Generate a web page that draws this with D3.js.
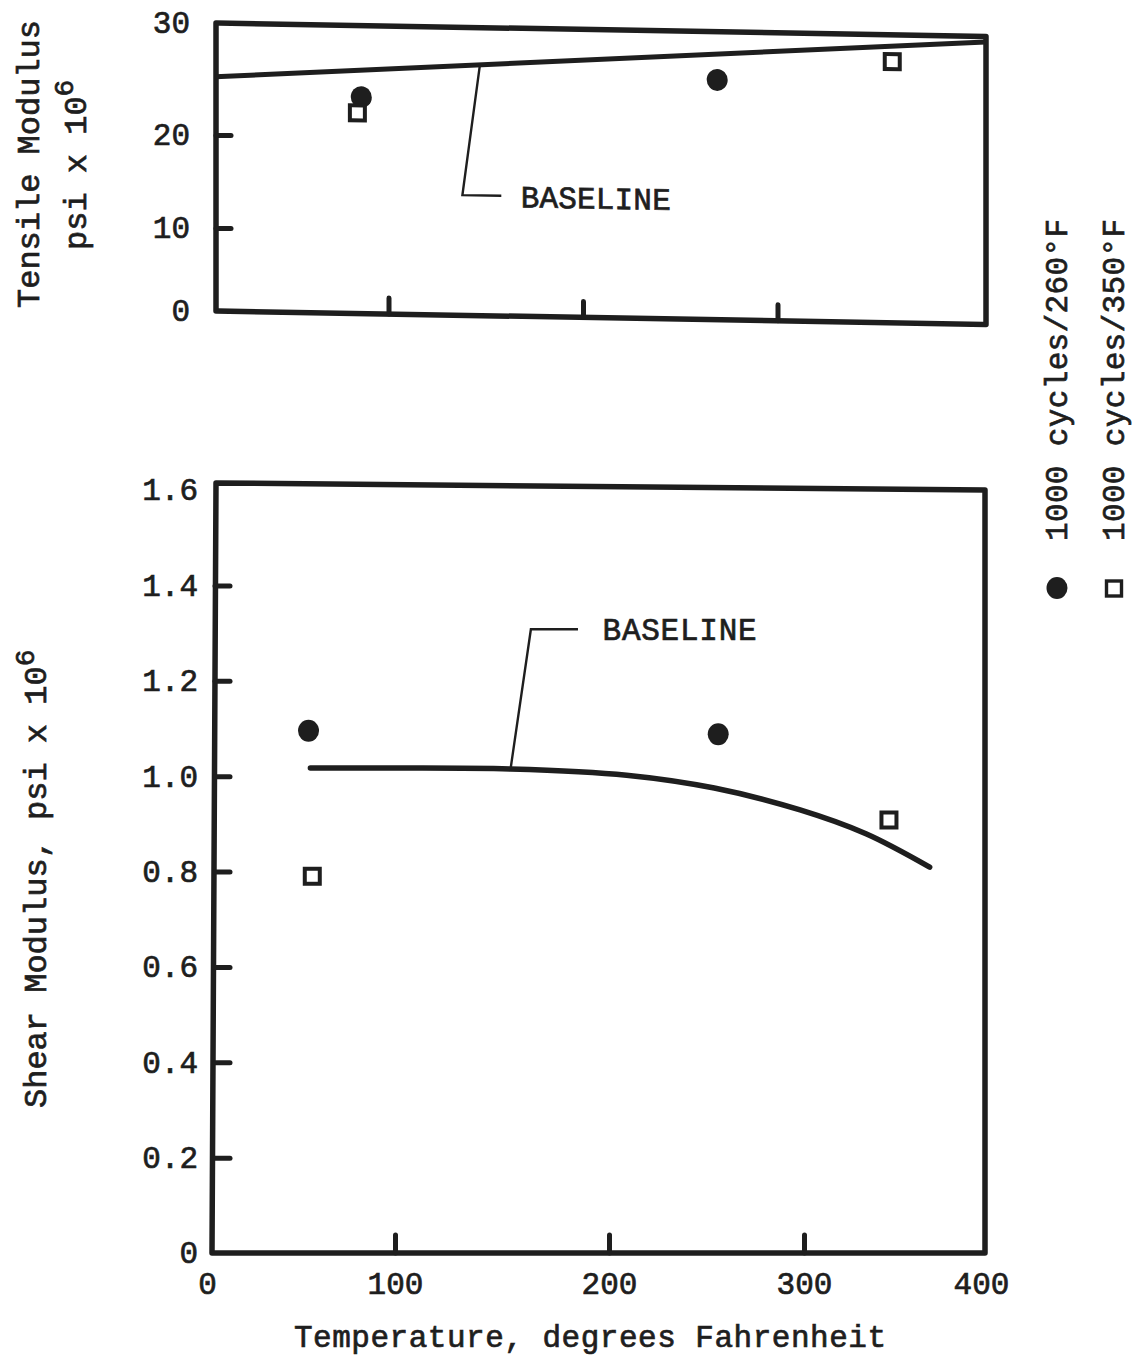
<!DOCTYPE html>
<html>
<head>
<meta charset="utf-8">
<script src="https://cdn.jsdelivr.net/npm/d3@7"></script>
<style>
  html, body { margin: 0; padding: 0; background: #fff; }
  svg { display: block; background: #fff; }
  text { font-family: "Liberation Mono", "Courier New", monospace; fill: #1e1e1e;
         stroke: #1e1e1e; stroke-width: 0.7px; }
</style>
</head>
<body>
<svg id="chart" width="1139" height="1357"></svg>
<script>
// ---- Tensile modulus panel (psi x 10^6) ----
const tensileTicks = [0, 10, 20, 30];
const tensileTempTicks = [100, 200, 300];
const tensileBaselineTemp = [11, 407];
const tensileBaseline = [25.2, 29.5];
const tensile250Temp = [86, 269];
const tensile250 = [23.6, 25.7];
const tensile350Temp = [84, 359];
const tensile350 = [22.2, 27.6];

// ---- Shear modulus panel (psi x 10^6) ----
const shearTicks = [0, 0.2, 0.4, 0.6, 0.8, 1.0, 1.2, 1.4, 1.6];
const tempTicks = [0, 100, 200, 300, 400];
const shearBaselineTemp = [55, 100, 154, 209, 254, 298, 335, 371];
const shearBaseline = [1.017, 1.017, 1.015, 1.002, 0.975, 0.929, 0.879, 0.809];
const shear250Temp = [54, 256];
const shear250 = [1.095, 1.088];
const shear350Temp = [56, 348];
const shear350 = [0.790, 0.908];

const legendLabels = ["1000 cycles/260°F", "1000 cycles/350°F"];

const INK = "#1e1e1e";
const svg = d3.select("#chart");

// ---------- scales ----------
const xT = d3.scaleLinear().domain([0, 400]).range([194, 972]);
const yT = d3.scaleLinear().domain([0, 10, 20, 30]).range([311, 228, 135, 23]);
const xB = d3.scaleLinear().domain([0, 100, 200, 300, 400]).range([207, 395, 609, 804, 981]);
const yB = d3.scaleLinear().domain([0, 1.6]).range([1253, 490]);

// frame extents
const topLeft = 216, topRight = 986;
const botLeftTop = 216, botLeftBottom = 212, botRight = 985, botTilt = 7;

function pts(xs, ys) { return xs.map((x, i) => [x, ys[i]]); }

function circles(g, data, xs, ys) {
  g.selectAll(null).data(data).join("ellipse")
    .attr("cx", d => xs(d[0])).attr("cy", d => ys(d[1]))
    .attr("rx", 10.5).attr("ry", 11).attr("fill", INK);
}
function squares(g, data, xs, ys) {
  const s = 15;
  g.selectAll(null).data(data).join("rect")
    .attr("x", d => xs(d[0]) - s / 2).attr("y", d => ys(d[1]) - s / 2)
    .attr("width", s).attr("height", s)
    .attr("fill", "#fff").attr("stroke", INK).attr("stroke-width", 4);
}
function styleAxis(g) {
  g.attr("font-family", null).attr("font-size", 31).style("color", INK);
  g.select(".domain").remove();
  g.selectAll(".tick line").attr("stroke-width", 5).attr("stroke-linecap", "round");
}

// ================= Tensile panel =================
// the printed panel is slightly tilted; vertical edges stay vertical
const topPanel = svg.append("g")
  .attr("transform", `translate(${topLeft},0) skewY(1.0) translate(${-topLeft},0)`);

topPanel.append("rect")
  .attr("x", topLeft).attr("y", yT(30))
  .attr("width", topRight - topLeft).attr("height", yT(0) - yT(30))
  .attr("fill", "none").attr("stroke", INK).attr("stroke-width", 5.5)
  .attr("stroke-linejoin", "round");

topPanel.append("g")
  .attr("transform", `translate(0,${yT(0)})`)
  .call(d3.axisBottom(xT).tickValues(tensileTempTicks).tickSize(-16).tickFormat(""))
  .call(styleAxis);

svg.append("g")
  .attr("transform", `translate(${topLeft},0)`)
  .call(d3.axisLeft(yT).tickValues(tensileTicks).tickSize(-15).tickPadding(26))
  .call(styleAxis)
  .call(g => g.selectAll(".tick").filter(d => d === 0 || d === 30).select("line").remove());

// baseline line
const tensileLine = pts(tensileBaselineTemp, tensileBaseline);
topPanel.append("path")
  .attr("d", d3.line().x(d => xT(d[0])).y(d => yT(d[1]))(tensileLine))
  .attr("fill", "none").attr("stroke", INK).attr("stroke-width", 5);

// leader to the BASELINE label
const tensileAt = d3.scaleLinear().domain(tensileBaselineTemp).range(tensileBaseline);
const tLeader = [[147, tensileAt(147)], [138, 14.0], [158, 14.0]];
topPanel.append("path")
  .attr("d", d3.line().x(d => xT(d[0])).y(d => yT(d[1]))(tLeader))
  .attr("fill", "none").attr("stroke", INK).attr("stroke-width", 2.4);
topPanel.append("text")
  .attr("x", xT(168)).attr("y", yT(14.0)).attr("dy", "0.36em")
  .attr("font-size", 31).attr("textLength", 150)
  .text("BASELINE");

circles(topPanel, pts(tensile250Temp, tensile250), xT, yT);
squares(topPanel, pts(tensile350Temp, tensile350), xT, yT);

// tensile axis title
svg.append("text")
  .attr("transform", "translate(39,164) rotate(-90)")
  .attr("text-anchor", "middle").attr("font-size", 32)
  .text("Tensile Modulus");
const t2 = svg.append("text")
  .attr("transform", "translate(86,250) rotate(-90)")
  .attr("font-size", 32);
t2.append("tspan").text("psi x 10");
t2.append("tspan").attr("dy", -13).attr("font-size", 28).text("6");

// ================= Shear panel =================
const bot = svg.append("g");
bot.append("path")
  .attr("d", d3.line()([
    [botLeftTop, yB(1.6) - botTilt], [botRight, yB(1.6)],
    [botRight, yB(0)], [botLeftBottom, yB(0)], [botLeftTop, yB(1.6) - botTilt]
  ]) + "Z")
  .attr("fill", "none").attr("stroke", INK).attr("stroke-width", 5.5)
  .attr("stroke-linejoin", "round");

bot.append("g")
  .attr("transform", `translate(0,${yB(0)})`)
  .call(d3.axisBottom(xB).tickValues(tempTicks).tickSize(-18).tickPadding(19))
  .call(styleAxis)
  .call(g => g.selectAll(".tick").filter(d => d === 0 || d === 400).select("line").remove());

bot.append("g")
  .attr("transform", `translate(${botLeftTop - 1},0)`)
  .call(d3.axisLeft(yB).tickValues(shearTicks).tickSize(-15).tickPadding(17)
    .tickFormat(d => d === 0 ? "0" : d.toFixed(1)))
  .call(styleAxis)
  .call(g => g.selectAll(".tick").filter(d => d === 0 || d === 1.6).select("line").remove());

// baseline curve
const shearLine = pts(shearBaselineTemp, shearBaseline);
bot.append("path")
  .attr("d", d3.line().x(d => xB(d[0])).y(d => yB(d[1])).curve(d3.curveCatmullRom.alpha(0.5))(shearLine))
  .attr("fill", "none").attr("stroke", INK).attr("stroke-width", 5.5)
  .attr("stroke-linecap", "round");

const shearAt = d3.scaleLinear().domain(shearBaselineTemp).range(shearBaseline);
const sLeader = [[154, shearAt(154)], [163.5, 1.308], [185.5, 1.308]];
bot.append("path")
  .attr("d", d3.line().x(d => xB(d[0])).y(d => yB(d[1]))(sLeader))
  .attr("fill", "none").attr("stroke", INK).attr("stroke-width", 2.4);
bot.append("text")
  .attr("x", xB(197)).attr("y", yB(1.308)).attr("dy", "0.36em")
  .attr("font-size", 31).attr("textLength", 154)
  .text("BASELINE");

circles(bot, pts(shear250Temp, shear250), xB, yB);
squares(bot, pts(shear350Temp, shear350), xB, yB);

// axis titles
const s1 = svg.append("text")
  .attr("transform", "translate(46,1108) rotate(-90)")
  .attr("font-size", 32);
s1.append("tspan").text("Shear Modulus, psi x 10");
s1.append("tspan").attr("dy", -12).attr("font-size", 28).text("6");

svg.append("text")
  .attr("x", 590).attr("y", 1347)
  .attr("text-anchor", "middle").attr("font-size", 31)
  .attr("textLength", 592)
  .text("Temperature, degrees Fahrenheit");

// ================= Legend =================
const legend = svg.append("g");
legendLabels.forEach((label, i) => {
  const cx = 1057 + i * 57;
  if (i === 0) {
    legend.append("ellipse").attr("cx", cx).attr("cy", 588).attr("rx", 10.5).attr("ry", 11).attr("fill", INK);
  } else {
    legend.append("rect").attr("x", cx - 7.5).attr("y", 581).attr("width", 15).attr("height", 15)
      .attr("fill", "#fff").attr("stroke", INK).attr("stroke-width", 3.4);
  }
  legend.append("text")
    .attr("transform", `translate(${cx + 10},541) rotate(-90)`)
    .attr("font-size", 31).attr("textLength", 322)
    .text(label);
});
</script>
</body>
</html>
